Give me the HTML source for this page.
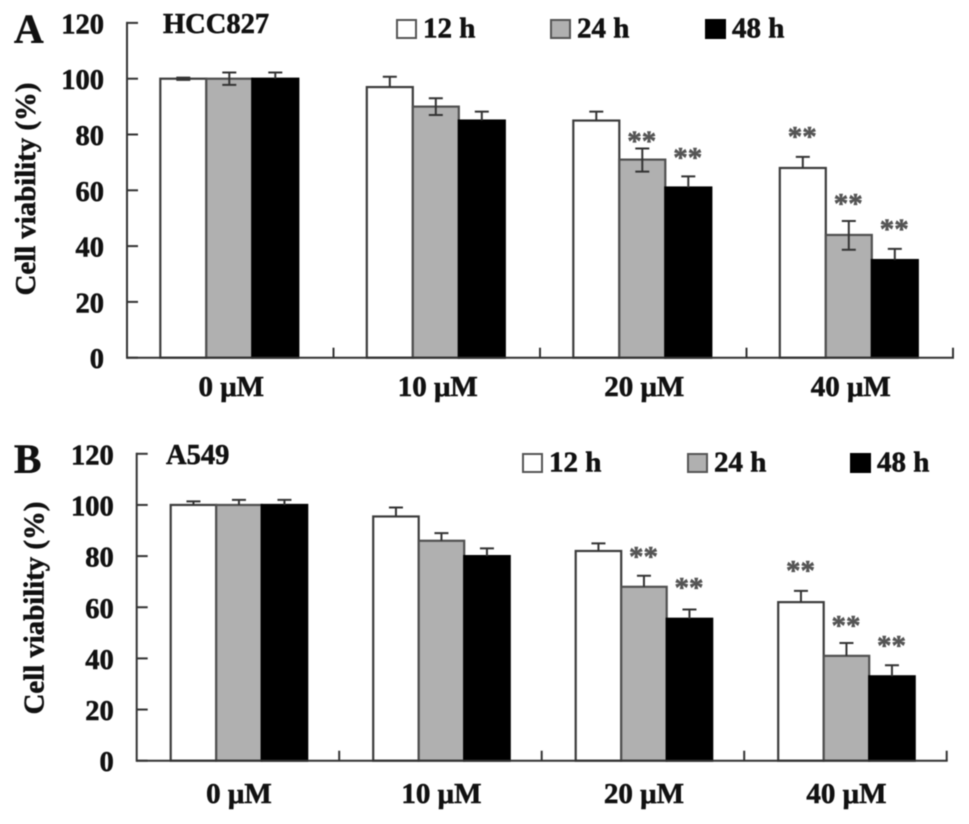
<!DOCTYPE html>
<html lang="en">
<head>
<meta charset="utf-8">
<title>Cell viability of HCC827 and A549 cells</title>
<style>
html,body{margin:0;padding:0;background:#fff;width:969px;height:824px;overflow:hidden}
svg{display:block;filter:blur(0.6px)}
text{font-family:"Liberation Serif",serif;font-weight:bold;fill:#111;stroke:#111;stroke-width:0.55px}
</style>
</head>
<body>
<svg id="figure" width="969" height="824" viewBox="0 0 969 824" xmlns="http://www.w3.org/2000/svg"></svg>
<script>
// Shared data
const categories = ['0 μM', '10 μM', '20 μM', '40 μM'];
const seriesNames = ['12 h', '24 h', '48 h'];
const yTickValues = [0, 20, 40, 60, 80, 100, 120];

// Panel A: HCC827
const a12 = [100, 97, 85, 68];
const a24 = [100, 90, 71, 44];
const a48 = [100, 85, 61, 35];
const a12ErrUp = [0.4, 3.7, 3.2, 4];
const a24ErrUp = [2.2, 3, 4, 5];
const a48ErrUp = [2.2, 3.2, 4, 4];
const a12ErrDown = [0.4, 0, 0, 0];
const a24ErrDown = [2.2, 3, 4.3, 5.3];
const a48ErrDown = [0, 0, 0, 0];
const a12Stars = [null, null, null, 80.5];
const a24Stars = [null, null, 79, 56.6];
const a48Stars = [null, null, 73, 47.3];

// Panel B: A549
const b12 = [100, 95.5, 82, 62];
const b24 = [100, 86, 68, 41];
const b48 = [100, 80, 55.5, 33];
const b12ErrUp = [1.4, 3.5, 3, 4.4];
const b24ErrUp = [2, 3, 4.3, 5];
const b48ErrUp = [2, 3, 3.6, 4.3];
const b12ErrDown = [0, 0, 0, 0];
const b24ErrDown = [0, 0, 0, 0];
const b48ErrDown = [0, 0, 0, 0];
const b12Stars = [null, null, null, 75.7];
const b24Stars = [null, null, 81.3, 54.3];
const b48Stars = [null, null, 69, 46.5];

const svg = document.getElementById('figure');
const NS = 'http://www.w3.org/2000/svg';
const fills = ['#ffffff', '#b0b0b0', '#000000'];
const strokes = ['#3c3c3c', '#505050', '#000000'];

function node(tag, parent, props, txt) {
  const el = document.createElementNS(NS, tag);
  for (const k in props) el.setAttribute(k, props[k]);
  if (txt !== undefined) el.textContent = txt;
  parent.appendChild(el);
  return el;
}

function drawPanel(p) {
  const g = node('g', svg, {});
  
  

  const yScale = v => p.y0 + (p.y120 - p.y0) * v / 120;
  const catStart = i => p.x0 + i * (p.x1 - p.x0) / categories.length;
  const barX = (i, s) => catStart(i) + p.barOffset + s * p.barWidth;

  // bars, error bars and significance marks
  p.values.forEach((series, s) => {
    series.forEach((v, i) => {
      const x = barX(i, s);
      const cx = x + p.barWidth / 2;
      const top = yScale(v);
      const bar = node('rect', g, {
        x: x, y: top, width: p.barWidth, height: p.y0 - top,
        fill: fills[s], stroke: strokes[s], 'stroke-width': 2.2
      });
      
      

      const upper = yScale(v + p.errUp[s][i]);
      const lower = yScale(v - p.errDown[s][i]);
      const err = node('path', g, {
        d: 'M' + cx + ' ' + lower + 'V' + upper +
           'M' + (cx - 7) + ' ' + upper + 'H' + (cx + 7) +
           (p.errDown[s][i] > 0 ? 'M' + (cx - 7) + ' ' + lower + 'H' + (cx + 7) : ''),
        fill: 'none', stroke: '#333', 'stroke-width': 2
      });
      
      

      const level = p.stars[s][i];
      if (level !== null) {
        const star = node('text', g, {
          x: cx - 0.5, y: yScale(level) + 13, 'text-anchor': 'middle',
          'font-size': 29, style: 'fill:#555;stroke:#555'
        }, '**');
        
        
      }
    });
  });

  // axes
  const yAxis = node('line', g, {
    x1: p.x0, x2: p.x0, y1: yScale(120) - 1, y2: p.y0 + 1, stroke: '#333', 'stroke-width': 2
  });
  
  

  const xAxis = node('line', g, {
    x1: p.x0, x2: p.x1 + 1, y1: p.y0, y2: p.y0, stroke: '#333', 'stroke-width': 2
  });
  
  

  yTickValues.forEach(v => {
    const t = node('line', g, {
      x1: p.x0, x2: p.x0 + 11, y1: yScale(v), y2: yScale(v), stroke: '#333', 'stroke-width': 2
    });
    
    

    const label = node('text', g, {
      x: p.x0 - 23, y: yScale(v) + 10.5, 'text-anchor': 'end', 'font-size': 28.5
    }, String(v));
    
    
  });

  categories.forEach((c, i) => {
    const t = node('line', g, {
      x1: catStart(i + 1), x2: catStart(i + 1), y1: p.y0, y2: p.y0 - 10, stroke: '#333', 'stroke-width': 2
    });
    
    

    const label = node('text', g, {
      x: catStart(i) + (p.x1 - p.x0) / 8 + 1, y: p.catBaseline, 'text-anchor': 'middle', 'font-size': 29
    }, c);
    
    
  });

  // titles
  const yTitle = node('text', g, {
    transform: 'translate(' + p.yTitleX + ' ' + p.yTitleY + ') rotate(-90)',
    'text-anchor': 'middle', 'font-size': 28.8
  }, 'Cell viability (%)');
  
  

  const letter = node('text', g, {
    x: 14, y: p.letterY, 'font-size': 41
  }, p.letter);
  
  

  const cell = node('text', g, {
    x: p.titleX, y: p.titleY, 'font-size': 28.5
  }, p.title);
  
  

  // legend
  seriesNames.forEach((name, s) => {
    const sw = node('rect', g, {
      x: p.legendX[s] + 1, y: p.legendY + 1, width: 19, height: 18,
      fill: fills[s], stroke: s === 2 ? '#000' : '#555', 'stroke-width': 2
    });
    
    

    const label = node('text', g, {
      x: p.legendX[s] + 27, y: p.legendY + 18.5, 'font-size': 29
    }, name);
    
    
  });
}

drawPanel({
  key: 'a', letter: 'A', title: 'HCC827',
  values: [a12, a24, a48],
  errUp: [a12ErrUp, a24ErrUp, a48ErrUp],
  errDown: [a12ErrDown, a24ErrDown, a48ErrDown],
  stars: [a12Stars, a24Stars, a48Stars],
  x0: 127, x1: 953, y0: 357.7, y120: 22.9,
  barOffset: 33.3, barWidth: 46, catBaseline: 396,
  yTitleX: 35, yTitleY: 189, letterY: 42.5,
  titleX: 163, titleY: 33,
  legendX: [396, 550, 705], legendY: 19
});

drawPanel({
  key: 'b', letter: 'B', title: 'A549',
  values: [b12, b24, b48],
  errUp: [b12ErrUp, b24ErrUp, b48ErrUp],
  errDown: [b12ErrDown, b24ErrDown, b48ErrDown],
  stars: [b12Stars, b24Stars, b48Stars],
  x0: 136.7, x1: 946.7, y0: 760.7, y120: 453.8,
  barOffset: 34, barWidth: 45.5, catBaseline: 803,
  yTitleX: 43.5, yTitleY: 608, letterY: 472.5,
  titleX: 166, titleY: 464,
  legendX: [522, 687, 850], legendY: 453
});
</script>
</body>
</html>
